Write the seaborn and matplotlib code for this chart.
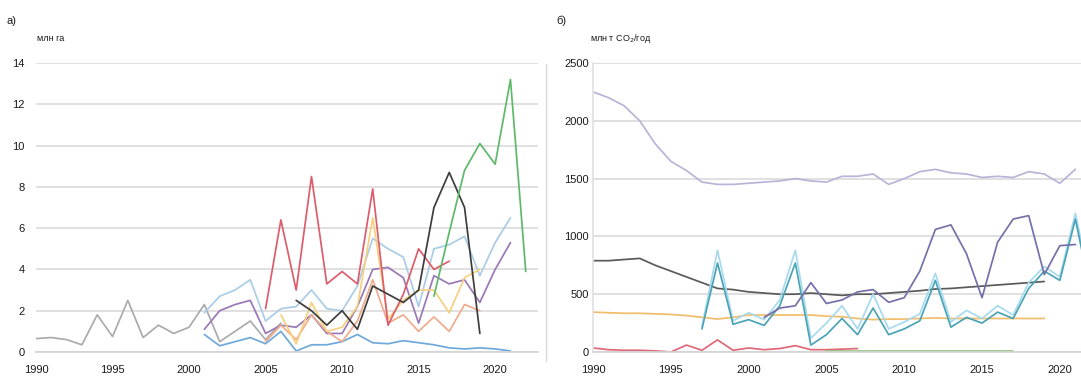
import matplotlib.pyplot as plt
import numpy as np
import pandas as pd
import seaborn as sns
from matplotlib.lines import Line2D

sns.set_theme(style="white")
plt.rcParams["font.family"] = ["Liberation Sans", "DejaVu Sans"]

# ---- panel a): area, mln ha ----
a_grey_years = list(range(1990, 2007))
a_grey = [0.65, 0.7, 0.6, 0.35, 1.8, 0.75, 2.5, 0.7, 1.3, 0.9, 1.2, 2.3, 0.5, 1.0, 1.5, 0.6, 1.4]

a_sky_years = list(range(2001, 2022))
a_sky = [1.9, 2.7, 3.0, 3.5, 1.5, 2.1, 2.2, 3.0, 2.1, 2.0, 3.2, 5.5, 5.0, 4.6, 2.2, 5.0, 5.2, 5.6, 3.7, 5.3, 6.5]

a_purple_years = list(range(2001, 2022))
a_purple = [1.1, 2.0, 2.3, 2.5, 0.9, 1.3, 1.2, 1.8, 0.9, 0.9, 2.2, 4.0, 4.1, 3.6, 1.4, 3.7, 3.3, 3.5, 2.4, 4.0, 5.3]

a_blue_years = list(range(2001, 2022))
a_blue = [0.85, 0.3, 0.5, 0.7, 0.4, 1.0, 0.05, 0.35, 0.35, 0.5, 0.85, 0.45, 0.4, 0.55, 0.45, 0.35, 0.2, 0.15, 0.2, 0.15, 0.05]

a_salmon_years = list(range(2005, 2020))
a_salmon = [0.5, 1.3, 0.6, 1.8, 1.0, 0.5, 1.5, 3.5, 1.4, 1.8, 1.0, 1.7, 1.0, 2.3, 2.0]

a_yellow_years = list(range(2006, 2020))
a_yellow = [1.8, 0.4, 2.4, 1.0, 1.2, 2.2, 6.5, 1.6, 2.5, 3.0, 3.0, 1.9, 3.6, 4.0]

a_red_years = list(range(2005, 2018))
a_red = [2.1, 6.4, 3.0, 8.5, 3.3, 3.9, 3.3, 7.9, 1.3, 2.8, 5.0, 4.0, 4.4]

a_black_years = list(range(2007, 2020))
a_black = [2.5, 2.0, 1.3, 2.0, 1.1, 3.2, 2.8, 2.4, 3.0, 7.0, 8.7, 7.0, 0.9]

a_green_years = list(range(2016, 2023))
a_green = [2.7, 5.8, 8.8, 10.1, 9.1, 13.2, 3.9]

# ---- panel б): emissions, mln t CO2/yr ----
b_lav_years = list(range(1990, 2022))
b_lav = [2250, 2200, 2130, 2000, 1800, 1650, 1570, 1470, 1450, 1450, 1460, 1470, 1480, 1500, 1480, 1470,
         1520, 1520, 1540, 1450, 1500, 1560, 1580, 1550, 1540, 1510, 1520, 1510, 1560, 1540, 1460, 1580]

b_dgrey_years = list(range(1990, 2020))
b_dgrey = [790, 790, 800, 810, 750, 700, 650, 600, 550, 540, 520, 510, 500, 500, 510, 500,
           490, 500, 500, 510, 520, 530, 545, 550, 560, 570, 580, 590, 600, 610]

b_orange_years = list(range(1990, 2020))
b_orange = [345, 340, 335, 335, 330, 325, 315, 300, 285, 300, 320, 320, 320, 320, 320, 310,
            305, 290, 280, 285, 285, 290, 295, 290, 290, 290, 290, 290, 290, 290]

b_red_years = list(range(1990, 2008))
b_red = [35, 20, 15, 15, 10, 0, 60, 15, 105, 15, 35, 20, 30, 55, 20, 20, 25, 30]

b_green_years = list(range(2005, 2018))
b_green = [8] * 13

b_purple_years = list(range(2001, 2022))
b_purple = [300, 380, 400, 600, 420, 450, 520, 540, 430, 470, 700, 1060, 1100, 850, 470, 950,
            1150, 1180, 670, 920, 930]

b_cyan_years = list(range(1997, 2023))
b_cyan = [220, 880, 270, 340, 280, 450, 880, 120, 250, 400, 200, 500, 200, 260, 330, 680,
          260, 360, 290, 400, 320, 600, 740, 650, 1200, 550]
b_teal = [200, 770, 240, 280, 230, 400, 770, 60, 150, 290, 150, 380, 150, 200, 270, 620,
          215, 300, 250, 345, 290, 550, 700, 620, 1150, 500]

a_colors = {
    "grey": "#ababab", "sky": "#a9cde6", "purple": "#9a78b8", "blue": "#6fa8dc",
    "salmon": "#efab8c", "yellow": "#f6d07e", "red": "#dc5d6c", "black": "#3d3d3d",
    "green": "#5fb86a",
}
b_colors = {
    "lav": "#b9b3d8", "dgrey": "#5a5a5a", "orange": "#f2bd6a", "red": "#e06878",
    "green": "#93c47d", "purple": "#7470aa", "cyan": "#a7daee", "teal": "#4aa3b6",
}


def long_frame(series):
    rows = []
    for name, years, vals in series:
        for y, v in zip(years, vals):
            rows.append({"year": y, "value": v, "series": name})
    return pd.DataFrame(rows)


df_a = long_frame([
    ("grey", a_grey_years, a_grey), ("sky", a_sky_years, a_sky),
    ("purple", a_purple_years, a_purple), ("blue", a_blue_years, a_blue),
    ("salmon", a_salmon_years, a_salmon), ("yellow", a_yellow_years, a_yellow),
    ("red", a_red_years, a_red), ("black", a_black_years, a_black),
    ("green", a_green_years, a_green),
])
df_b = long_frame([
    ("lav", b_lav_years, b_lav), ("dgrey", b_dgrey_years, b_dgrey),
    ("orange", b_orange_years, b_orange), ("red", b_red_years, b_red),
    ("green", b_green_years, b_green), ("cyan", b_cyan_years, b_cyan),
    ("teal", b_cyan_years, b_teal), ("purple", b_purple_years, b_purple),
])

fig = plt.figure(figsize=(10.81, 3.76), dpi=100)
ax1 = fig.add_axes([0.0333, 0.0638, 0.4644, 0.7686])
ax2 = fig.add_axes([0.5486, 0.0638, 0.4514, 0.7686])

sns.lineplot(data=df_a, x="year", y="value", hue="series", palette=a_colors,
             estimator=None, linewidth=1.25, legend=False, ax=ax1)
sns.lineplot(data=df_b, x="year", y="value", hue="series", palette=b_colors,
             estimator=None, linewidth=1.25, legend=False, ax=ax2)

tick_years = [1990, 1995, 2000, 2005, 2010, 2015, 2020]

for ax, ymax, ystep, xmax, ypad in [(ax1, 14, 2, 2022.8, 8), (ax2, 2500, 500, 2021.36, 3)]:
    ax.set_xlim(1990, xmax)
    ax.set_ylim(0, ymax)
    ax.set_yticks(np.arange(0, ymax + 1, ystep))
    ax.set_xticks(tick_years)
    ax.set_xlabel("")
    ax.set_ylabel("")
    ax.grid(axis="y", color="#e0e0e0", linewidth=1.4)
    ax.grid(axis="x", visible=False)
    ax.set_axisbelow(True)
    for side in ["top", "right", "left"]:
        ax.spines[side].set_visible(False)
    ax.spines["bottom"].set_color("#d4d4d4")
    ax.tick_params(axis="y", labelsize=8, colors="#1a1a1a", length=0, pad=ypad)
    ax.tick_params(axis="x", labelsize=8, colors="#1a1a1a", length=3, direction="out", pad=6)
    ax.tick_params(axis="x", color="#d4d4d4")

ax2.spines["left"].set_visible(True)
ax2.spines["left"].set_color("#e2e2e2")

fig.text(0.006, 0.935, "а)", fontsize=8, color="#1a1a1a")
fig.text(0.034, 0.89, "млн га", fontsize=6.5, color="#1a1a1a")
fig.text(0.515, 0.935, "б)", fontsize=8, color="#1a1a1a")
fig.text(0.546, 0.89, "млн т CO$_2$/год", fontsize=6.5, color="#1a1a1a")

fig.add_artist(Line2D([0.505, 0.505], [0.04, 0.83], color="#d9d9d9", linewidth=1.0))

plt.savefig("out.png", dpi=100)
plt.close()
